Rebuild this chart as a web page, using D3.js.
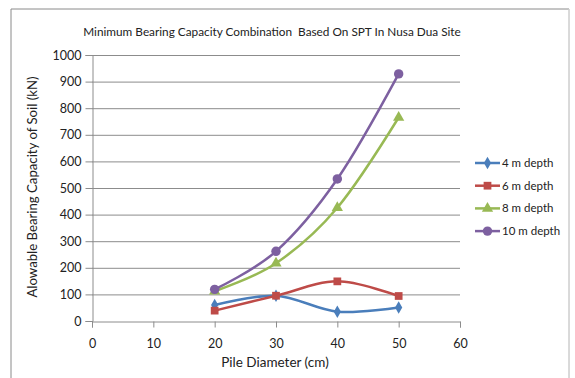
<!DOCTYPE html>
<html>
<head>
<meta charset="utf-8">
<script src="https://cdn.jsdelivr.net/npm/d3@7"></script>
<style>
  body { margin: 0; background: #fff; }
  text { font-family: Lato, "Liberation Sans", sans-serif; fill: #222; white-space: pre; }
</style>
</head>
<body>
<script>
// data
const diameters = [20, 30, 40, 50];
const depth4 = [60, 95, 35, 51];
const depth6 = [39, 95, 149, 94];
const depth8 = [112, 217, 426, 765];
const depth10 = [119, 262, 534, 929];
const seriesNames = ['4 m depth', '6 m depth', '8 m depth', '10 m depth'];
const xTicks = [0, 10, 20, 30, 40, 50, 60];
const yTicks = [0, 100, 200, 300, 400, 500, 600, 700, 800, 900, 1000];

const colors = ['#4A7EBB', '#BE4B48', '#98B954', '#7D60A0'];
const shapes = [d3.symbolDiamond, d3.symbolSquare, d3.symbolTriangle, d3.symbolCircle];
const sizes = [45, 60, 55, 70];

const W = 575, H = 378;
const margin = { top: 55, left: 92, right: 115, bottom: 57 };

const svg = d3.select('body').append('svg')
  .attr('width', W)
  .attr('height', H);

// chart frame
svg.append('path')
  .attr('d', `M11,${H} V9 H569 V${H}`)
  .attr('fill', 'none')
  .attr('stroke', '#8a8a8a')
  .attr('stroke-width', 1);
svg.append('line')
  .attr('x1', 569).attr('x2', 569).attr('y1', 9).attr('y2', H)
  .attr('stroke', '#eee');

const x = d3.scaleLinear().domain([0, 60]).range([margin.left, W - margin.right]);
const y = d3.scaleLinear().domain([0, 1000]).range([H - margin.bottom, margin.top]);

// gridlines
svg.append('g')
  .selectAll('line')
  .data(yTicks.filter(d => d > 0))
  .enter().append('line')
  .attr('x1', x(0)).attr('x2', x(60))
  .attr('y1', d => y(d) + 0.5).attr('y2', d => y(d) + 0.5)
  .attr('stroke', '#8c8c8c');

// axes
const yAxis = svg.append('g')
  .attr('transform', `translate(${x(0) + 0.5},0)`)
  .call(d3.axisLeft(y).tickValues(yTicks).tickFormat(d3.format('d')).tickSize(7).tickPadding(4));
const xAxis = svg.append('g')
  .attr('transform', `translate(0,${y(0) + 0.5})`)
  .call(d3.axisBottom(x).tickValues(xTicks).tickSize(6).tickPadding(12));

[yAxis, xAxis].forEach(a => {
  a.select('.domain').attr('stroke', '#8c8c8c');
  a.selectAll('.tick line').attr('stroke', '#8c8c8c');
  a.selectAll('.tick text')
    .attr('font-size', '12.5px')
    .attr('font-family', 'Lato, "Liberation Sans", sans-serif')
    .attr('fill', '#222');
});

// lines
const allSeries = [depth4, depth6, depth8, depth10];
const line = d3.line()
  .x((d, i) => x(diameters[i]))
  .y(d => y(d))
  .curve(d3.curveCardinal.tension(0));

allSeries.forEach((vals, s) => {
  svg.append('path')
    .datum(vals)
    .attr('d', line)
    .attr('fill', 'none')
    .attr('stroke', colors[s])
    .attr('stroke-width', 2.5);
  svg.append('g')
    .selectAll('path')
    .data(vals)
    .enter().append('path')
    .attr('transform', (d, i) => `translate(${x(diameters[i])},${y(d)})`)
    .attr('d', d3.symbol().type(shapes[s]).size(sizes[s]))
    .attr('fill', colors[s]);
});

// title
svg.append('text')
  .attr('x', 272)
  .attr('y', 36)
  .attr('text-anchor', 'middle')
  .attr('font-size', '11.8px')
  .text('Minimum Bearing Capacity Combination  Based On SPT In Nusa Dua Site');

// axis titles
svg.append('text')
  .attr('x', 275)
  .attr('y', 367)
  .attr('text-anchor', 'middle')
  .attr('font-size', '13.5px')
  .text('Pile Diameter (cm)');
svg.append('text')
  .attr('transform', 'translate(37,187) rotate(-90)')
  .attr('text-anchor', 'middle')
  .attr('font-size', '13.2px')
  .text('Alowable Bearing Capacity of Soil (kN)');

// legend
const legend = svg.append('g')
  .selectAll('g')
  .data(seriesNames)
  .enter().append('g')
  .attr('transform', (d, i) => `translate(475,${163 + i * 22.7})`);
legend.append('line')
  .attr('x1', 0).attr('x2', 25)
  .attr('stroke', (d, i) => colors[i])
  .attr('stroke-width', 2.5);
legend.append('path')
  .attr('transform', 'translate(12.5,0)')
  .attr('d', (d, i) => d3.symbol().type(shapes[i]).size(sizes[i])())
  .attr('fill', (d, i) => colors[i]);
legend.append('text')
  .attr('x', 27)
  .attr('dy', '0.35em')
  .attr('font-size', '11.5px')
  .text(d => d);
</script>
</body>
</html>
